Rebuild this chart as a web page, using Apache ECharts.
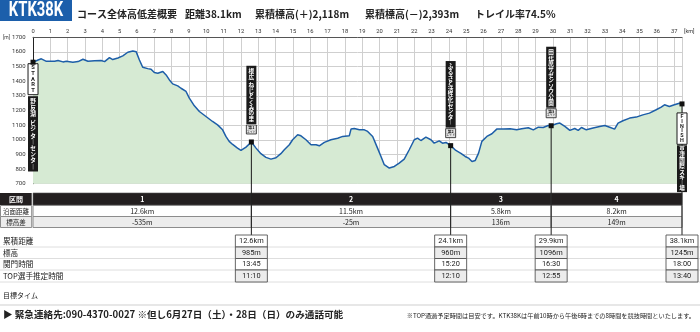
<!DOCTYPE html>
<html lang="ja">
<head>
<meta charset="utf-8">
<title>KTK38K コース全体高低差概要</title>
<script src="https://cdn.jsdelivr.net/npm/echarts@6.0.0/dist/echarts.min.js"></script>
<style>
html,body{margin:0;padding:0;background:#fff;}
#chart{width:700px;height:332px;}
</style>
</head>
<body>
<div id="chart"></div>
<script>
// Elevation profile: distance on the axis (km) and altitude (m)
const profileKm = [
  0, 0.29, 0.48, 0.77, 1.25, 1.44, 1.73, 1.92, 2.3, 2.6, 2.88, 3.17, 3.55, 3.93, 4.13, 4.41, 4.6, 4.9,
  5.18, 5.47, 5.76, 5.85, 5.95, 6.14, 6.33, 6.62, 6.81, 7.0, 7.2, 7.49, 7.68, 7.87, 8.06, 8.35, 8.54,
  8.83, 9.02, 9.31, 9.6, 9.98, 10.36, 10.65, 10.94, 11.13, 11.32, 11.52, 11.8, 12.0, 12.29, 12.6,
  12.87, 13.15, 13.44, 13.73, 14.02, 14.3, 14.5, 14.79, 14.98, 15.27, 15.46, 15.75, 16.04, 16.13,
  16.33, 16.52, 16.81, 17.19, 17.58, 17.87, 18.25, 18.35, 18.54, 18.83, 19.12, 19.31, 19.6, 19.88,
  20.08, 20.27, 20.56, 20.85, 21.13, 21.42, 21.71, 22.0, 22.19, 22.38, 22.67, 22.96, 23.15, 23.44,
  23.63, 23.83, 24.1, 24.4, 24.69, 24.94, 25.13, 25.33, 25.52, 25.71, 25.9, 26.19, 26.48, 26.76,
  27.15, 27.53, 27.91, 28.2, 28.58, 28.87, 29.16, 29.44, 29.73, 29.9, 30.21, 30.4, 30.69, 30.98,
  31.26, 31.46, 31.65, 31.93, 32.32, 32.7, 32.99, 33.28, 33.56, 33.76, 34.04, 34.43, 34.81, 35.19,
  35.57, 35.96, 36.25, 36.44, 36.72, 37.01, 37.3, 37.45
];
const profileElev = [
  1530, 1545, 1553, 1536, 1536, 1541, 1532, 1536, 1530, 1534, 1550, 1536, 1539, 1541, 1534, 1561, 1548, 1559,
  1573, 1598, 1607, 1614, 1602, 1545, 1495, 1486, 1482, 1459, 1455, 1466, 1443, 1409, 1382, 1368, 1352,
  1330, 1284, 1232, 1193, 1159, 1125, 1102, 1068, 1023, 989, 968, 943, 927, 950, 985,
  943, 905, 880, 868, 877, 905, 932, 966, 1000, 1034, 1027, 1000, 966, 977,
  966, 959, 982, 1000, 1011, 1023, 1027, 1073, 1077, 1068, 1068, 1057, 1023, 943,
  886, 830, 807, 818, 841, 868, 932, 1000, 1011, 995, 1018, 1000, 977, 993,
  977, 982, 960, 927, 907, 886, 875, 852, 859, 909, 989, 1023, 1041, 1073,
  1073, 1075, 1068, 1075, 1082, 1068, 1086, 1084, 1098, 1096, 1109, 1114, 1091, 1064,
  1077, 1064, 1084, 1068, 1080, 1091, 1098, 1086, 1073, 1114, 1130, 1148, 1155, 1170,
  1182, 1205, 1223, 1239, 1227, 1239, 1250, 1245
];

// Checkpoints: start, three aid stations, finish
const cpKm = [0, 12.6, 24.1, 29.9, 37.45];
const cpElev = [1530, 985, 960, 1096, 1245];
const cpKind = ['start', 'aid', 'aid', 'aid', 'finish'];
const cpName = ['野反湖 ビジターセンター', '根広 ねじとくみの里', 'ふるさと活性化センター', '田代原ザゼンソウ公園', '草津国際スキー場'];
const cpBadge = ['', '第1', '第2', '第3', ''];
const cpDist = ['', '12.6km', '24.1km', '29.9km', '38.1km'];
const cpCutoff = ['', '13:45', '15:20', '16:30', '18:00'];
const cpTopTime = ['', '11:10', '12:10', '12:55', '13:40'];

// Sections between checkpoints
const secNo = ['1', '2', '3', '4'];
const secFrom = [0, 12.6, 24.1, 29.9];
const secTo = [12.6, 24.1, 29.9, 37.45];
const secDist = ['12.6km', '11.5km', '5.8km', '8.2km'];
const secGain = ['-535m', '-25m', '136m', '149m'];

// Row headings of the checkpoint table
const tableRows = ['累積距離', '標高', '関門時間', 'TOP選手推定時間'];

const JP = '"Noto Sans CJK JP", "Noto Sans", sans-serif';
const NUM = '"Liberation Sans Narrow", Roboto, "Liberation Sans", sans-serif';

const chart = echarts.init(document.getElementById('chart'), null, { renderer: 'canvas' });

// Stacked (vertical) lettering inside a label box
function stackText(children, text, x, top, step, size, color, family, weight) {
  let y = top;
  for (const ch of text) {
    if (ch === ' ') { y += step * 0.5; continue; }
    children.push({
      type: 'text',
      style: {
        text: ch === 'ー' ? '｜' : ch, x: x, y: y + step / 2,
        align: 'center', verticalAlign: 'middle',
        fontSize: size, fontFamily: family, fontWeight: weight || 'bold', fill: color
      }
    });
    y += step;
  }
  return y;
}
function slots(text) {
  let n = 0;
  for (const ch of text) n += ch === ' ' ? 0.5 : 1;
  return n;
}

const TABLE_TOP = 235;

function renderSection(params, api) {
  const i = params.dataIndex;
  const x0 = api.coord([api.value(0), 700])[0];
  const x1 = api.coord([api.value(1), 700])[0];
  const cx = (x0 + x1) / 2, w = x1 - x0;
  const txt = (t, y, color, weight, size) => ({
    type: 'text',
    style: { text: t, x: cx, y: y, align: 'center', verticalAlign: 'middle',
      fontSize: size || 7, fontFamily: JP, fontWeight: weight || 'normal', fill: color }
  });
  return {
    type: 'group',
    children: [
      { type: 'rect', shape: { x: x0, y: 193, width: w, height: 12 }, style: { fill: '#231f20', stroke: '#555', lineWidth: 0.6 } },
      { type: 'rect', shape: { x: x0, y: 205.5, width: w, height: 11 }, style: { fill: '#fff', stroke: '#8c8c8c', lineWidth: 1 } },
      { type: 'rect', shape: { x: x0, y: 216.5, width: w, height: 11 }, style: { fill: '#ececec', stroke: '#8c8c8c', lineWidth: 1 } },
      txt(secNo[i], 199.5, '#fff', 'bold', 7),
      txt(secDist[i], 211.2, '#222'),
      txt(secGain[i], 222.2, '#222')
    ]
  };
}

function renderCheckpoint(params, api) {
  const i = params.dataIndex;
  const p = api.coord([api.value(0), api.value(1)]);
  const x = p[0], y = p[1];
  const kind = cpKind[i];
  const ch = [];
  const step = 5.6, fs = 5.6;

  if (kind === 'aid' || kind === 'finish') {
    ch.push({ type: 'line', shape: { x1: x, y1: y, x2: x, y2: TABLE_TOP }, style: { stroke: '#1a1a1a', lineWidth: 1 } });
  }
  if (kind === 'start') {
    const wTop = y + 1.5, wH = 5 * 5.6 + 3;
    ch.push({ type: 'rect', shape: { x: x - 5, y: wTop, width: 10, height: wH }, style: { fill: '#fff', stroke: '#1a1a1a', lineWidth: 1 } });
    stackText(ch, 'START', x, wTop + 1.5, 5.6, 5.8, '#1a1a1a', NUM);
    const bTop = wTop + wH + 1.5, bStep = 6.2;
    const bH = slots(cpName[i]) * bStep + 4;
    ch.push({ type: 'rect', shape: { x: x - 5, y: bTop, width: 10, height: bH }, style: { fill: '#1a1a1a' } });
    stackText(ch, cpName[i], x, bTop + 2, bStep, fs, '#fff', JP);
  } else if (kind === 'aid') {
    const badgeTop = y - 17;
    ch.push({ type: 'rect', shape: { x: x - 5, y: badgeTop, width: 10, height: 9 }, style: { fill: '#e4e4e4', stroke: '#1a1a1a', lineWidth: 0.8 } });
    ch.push({ type: 'text', style: { text: cpBadge[i], x: x, y: badgeTop + 2.6, align: 'center', verticalAlign: 'middle', fontSize: 3.8, fontFamily: JP, fontWeight: 'bold', fill: '#111' } });
    ch.push({ type: 'text', style: { text: 'エイド', x: x, y: badgeTop + 6.4, align: 'center', verticalAlign: 'middle', fontSize: 3, fontFamily: JP, fill: '#111' } });
    const bH = slots(cpName[i]) * step + 5;
    const bTop = badgeTop - 1 - bH;
    ch.push({ type: 'rect', shape: { x: x - 5, y: bTop, width: 10, height: bH }, style: { fill: '#1a1a1a' } });
    stackText(ch, cpName[i], x, bTop + 2.5, step, fs, '#fff', JP);
  } else {
    const wTop = y + 9, wH = 6 * 4.9 + 2;
    ch.push({ type: 'rect', shape: { x: x - 5, y: wTop, width: 10, height: wH }, style: { fill: '#fff', stroke: '#1a1a1a', lineWidth: 1 } });
    stackText(ch, 'FINISH', x, wTop + 1, 4.9, 5.4, '#1a1a1a', NUM);
    const bTop = wTop + wH + 1;
    const bH = slots(cpName[i]) * step + 2;
    ch.push({ type: 'rect', shape: { x: x - 5, y: bTop, width: 10, height: bH }, style: { fill: '#1a1a1a' } });
    stackText(ch, cpName[i], x, bTop + 1, step, fs, '#fff', JP);
  }
  // checkpoint dot
  ch.push({ type: 'rect', shape: { x: x - 2.5, y: y - 2.5, width: 5, height: 5 }, style: { fill: '#111' } });

  // cumulative values under the checkpoint
  if (i > 0) {
    const cells = [cpDist[i], cpElev[i] + 'm', cpCutoff[i], cpTopTime[i]];
    const rowY = [TABLE_TOP, 247, 258.5, 270];
    const rowH = [12, 11.5, 11.5, 12];
    for (let r = 0; r < 4; r++) {
      ch.push({ type: 'rect', shape: { x: x - 16, y: rowY[r], width: 32, height: rowH[r] },
        style: { fill: r % 2 ? '#ececec' : '#fff', stroke: '#555', lineWidth: 0.9 } });
      ch.push({ type: 'text', style: { text: cells[r], x: x, y: rowY[r] + rowH[r] / 2 + 0.3, align: 'center', verticalAlign: 'middle',
        fontSize: 7.4, fontFamily: NUM, fill: '#222' } });
    }
  }
  return { type: 'group', children: ch };
}

const graphics = [
  { type: 'rect', shape: { x: 0, y: 0, width: 72, height: 21 }, style: { fill: '#1c5fab' } },
  { type: 'text', x: 36, y: 11, scaleX: 0.74, style: { text: 'KTK38K', x: 0, y: 0, align: 'center', verticalAlign: 'middle', fontSize: 20, fontFamily: 'Roboto', fontWeight: 'bold', fill: '#fff' } },
  { type: 'text', style: { text: 'コース全体高低差概要', x: 77, y: 14.5, verticalAlign: 'middle', fontSize: 10, fontFamily: JP, fontWeight: 'bold', fill: '#222' } },
  { type: 'text', style: { text: '距離38.1km', x: 185, y: 14.5, verticalAlign: 'middle', fontSize: 10, fontFamily: JP, fontWeight: 'bold', fill: '#222' } },
  { type: 'text', style: { text: '累積標高(＋)2,118m', x: 255, y: 14.5, verticalAlign: 'middle', fontSize: 10, fontFamily: JP, fontWeight: 'bold', fill: '#222' } },
  { type: 'text', style: { text: '累積標高(－)2,393m', x: 365, y: 14.5, verticalAlign: 'middle', fontSize: 10, fontFamily: JP, fontWeight: 'bold', fill: '#222' } },
  { type: 'text', style: { text: 'トレイル率74.5%', x: 475, y: 14.5, verticalAlign: 'middle', fontSize: 10, fontFamily: JP, fontWeight: 'bold', fill: '#222' } },
  { type: 'text', style: { text: '[km]', x: 684, y: 32, verticalAlign: 'middle', fontSize: 5.5, fontFamily: NUM, fill: '#333' } },

  // left column of the section table
  { type: 'rect', shape: { x: 0, y: 193, width: 31.7, height: 12 }, style: { fill: '#231f20' } },
  { type: 'text', style: { text: '区間', x: 16, y: 199.5, align: 'center', verticalAlign: 'middle', fontSize: 7, fontFamily: JP, fontWeight: 'bold', fill: '#fff' } },
  { type: 'rect', shape: { x: 0.5, y: 205.5, width: 31.2, height: 11 }, style: { fill: '#fff', stroke: '#8c8c8c', lineWidth: 1 } },
  { type: 'text', style: { text: '沿面距離', x: 16, y: 211.2, align: 'center', verticalAlign: 'middle', fontSize: 6.5, fontFamily: JP, fill: '#222' } },
  { type: 'rect', shape: { x: 0.5, y: 216.5, width: 31.2, height: 11 }, style: { fill: '#ececec', stroke: '#8c8c8c', lineWidth: 1 } },
  { type: 'text', style: { text: '標高差', x: 16, y: 222.2, align: 'center', verticalAlign: 'middle', fontSize: 6.5, fontFamily: JP, fill: '#222' } },

  // checkpoint table rows
  ...[247, 258.5, 270, 282].map(y => ({ type: 'line', shape: { x1: 0, y1: y, x2: 700, y2: y }, style: { stroke: '#d6d6d6', lineWidth: 0.8 } })),
  ...tableRows.map((t, r) => ({ type: 'text', style: { text: t, x: 3, y: [241, 252.8, 264.3, 276][r], verticalAlign: 'middle', fontSize: 7.6, fontFamily: JP, fill: '#222' } })),
  { type: 'text', style: { text: '目標タイム', x: 3, y: 295, verticalAlign: 'middle', fontSize: 7, fontFamily: JP, fill: '#222' } },
  { type: 'line', shape: { x1: 0, y1: 305, x2: 700, y2: 305 }, style: { stroke: '#cfcfcf', lineWidth: 1 } },

  // footer
  { type: 'text', style: { text: '▶ 緊急連絡先:090-4370-0027 ※但し6月27日（土）・28日（日）のみ通話可能', x: 3, y: 314.5, verticalAlign: 'middle', fontSize: 9.6, fontFamily: JP, fontWeight: 'bold', fill: '#222' } },
  { type: 'text', style: { text: '※TOP通過予定時間は目安です。KTK38Kは午前10時から午後6時までの8時間を競技時間といたします。', x: 695, y: 315.5, align: 'right', verticalAlign: 'middle', fontSize: 6.2, fontFamily: JP, fill: '#222' } }
];

chart.setOption({
  animation: false,
  backgroundColor: '#fff',
  grid: { left: 31.7, top: 37.3, width: 650.3, height: 146.4, containLabel: false },
  xAxis: {
    type: 'value', position: 'top', min: 0, max: 37.45, interval: 1,
    axisLine: { show: true, lineStyle: { color: '#555', width: 1 } },
    axisTick: { show: false },
    axisLabel: { margin: 2.5, fontSize: 5.8, fontFamily: NUM, color: '#333',
      formatter: v => (Number.isInteger(v) ? String(v) : '') },
    splitLine: { show: true, lineStyle: { color: '#cfcfcf', width: 1 } }
  },
  yAxis: {
    type: 'value', min: 700, max: 1700, interval: 100,
    axisLine: { show: true, lineStyle: { color: '#222', width: 1 } },
    axisTick: { show: false },
    axisLabel: { margin: 7.5, fontSize: 6, fontFamily: NUM, color: '#333',
      formatter: v => (v === 1700 ? '{u|[m]}1700' : String(v)),
      rich: { u: { fontSize: 5, fontFamily: NUM, color: '#333', padding: [0, 2, 0, 0] } } },
    splitLine: { show: true, lineStyle: { color: '#cfcfcf', width: 1 } }
  },
  graphic: { elements: graphics },
  series: [
    {
      type: 'line', silent: true, z: 2, symbol: 'none', smooth: false,
      data: profileKm.map((k, i) => [k, profileElev[i]]),
      lineStyle: { color: '#1d5ea8', width: 1.5 },
      areaStyle: { color: '#d6ead3', opacity: 1 }
    },
    {
      type: 'custom', silent: true, z: 3, clip: false,
      data: secFrom.map((f, i) => [f, secTo[i]]),
      encode: { x: [0, 1] },
      renderItem: renderSection
    },
    {
      type: 'custom', silent: true, z: 4, clip: false,
      data: cpKm.map((k, i) => [k, cpElev[i]]),
      encode: { x: 0, y: 1 },
      renderItem: renderCheckpoint
    }
  ]
});
</script>
</body>
</html>
